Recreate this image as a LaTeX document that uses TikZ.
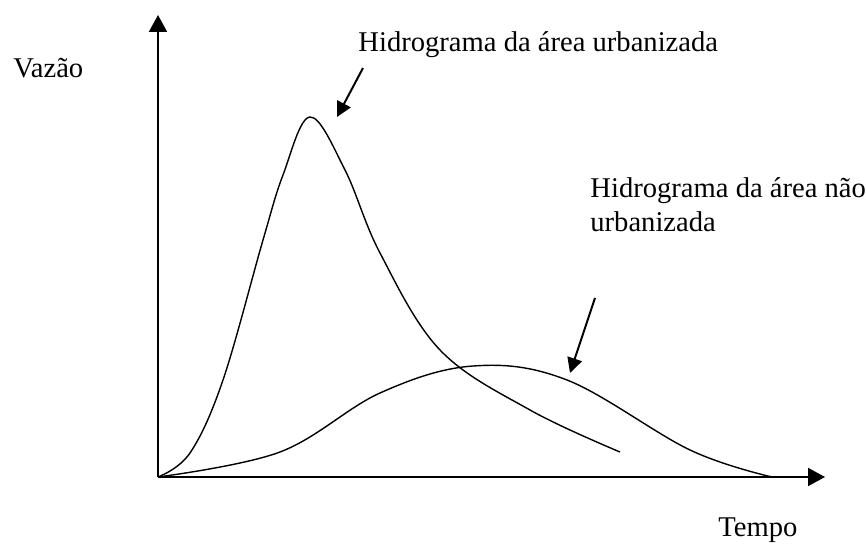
\documentclass[tikz,border=0pt]{standalone}
\usepackage{fontspec}
\setmainfont{Liberation Serif}
\usetikzlibrary{arrows.meta,positioning}

\begin{document}
\begin{tikzpicture}[x=0.5pt, y=-0.5pt, font=\fontsize{14.3}{17}\selectfont,
    axis/.style={line width=1pt, -{Triangle[length=8.5pt, width=9pt]}},
    curve/.style={line width=0.7pt},
    pointer/.style={line width=1pt, -{Triangle[length=7.5pt, width=7.5pt]}},
    lbl/.style={anchor=base west, inner sep=0pt, align=left}]
\useasboundingbox (0,0) rectangle (866,544);
% axes
\coordinate (o) at (158,477);
\coordinate (ytop) at (158,15);
\coordinate (xend) at (825,477);
\draw[axis] (o) -- (ytop);
\draw[axis] (o) -- (xend);
\node[lbl] (vazao) at (13,78) {Vazão};
\node[lbl] (tempo) at (718,536) {Tempo};
% hydrograph of the urbanised area
\draw[curve] plot[smooth, tension=0.6] coordinates {(158,477) (190,453) (223,380)
  (263,240) (283,175) (310,117) (345,170) (380,253) (440,350)
  (530,410) (620,452)};
% hydrograph of the non-urbanised area
\draw[curve] plot[smooth, tension=0.6] coordinates {(158,477) (280,452) (380,393)
  (473,366) (567,380) (690,450) (772,477)};
% labels with pointers
\node[lbl] (urb) at (358,52) {Hidrograma da área urbanizada};
\coordinate (urbtail) at (363,68);
\coordinate (urbtip) at (337,117);
\draw[pointer] (urbtail) -- (urbtip);
\node[lbl] (nurb) at (590,232) {Hidrograma da área não\\urbanizada};
\coordinate (nurbtail) at (595,298);
\coordinate (nurbtip) at (570,373);
\draw[pointer] (nurbtail) -- (nurbtip);
\end{tikzpicture}
\end{document}
